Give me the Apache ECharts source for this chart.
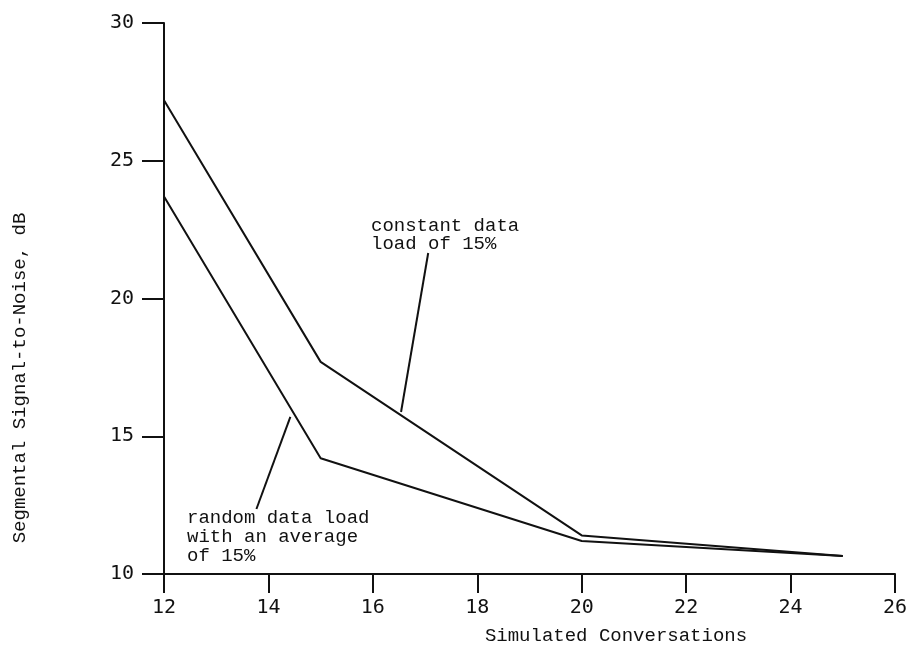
<!DOCTYPE html>
<html>
<head>
<meta charset="utf-8">
<script src="https://cdn.jsdelivr.net/npm/echarts@6/dist/echarts.min.js"></script>
<style>html,body{margin:0;padding:0;background:#fff}#c{width:912px;height:648px}</style>
</head>
<body>
<div id="c"></div>
<script>
// Data
var conversations = [12, 15, 20, 25];
var constantLoad = [27.2, 17.7, 11.4, 10.65];
var randomLoad = [23.7, 14.2, 11.2, 10.65];
var xTicks = [12, 14, 16, 18, 20, 22, 24, 26];
var yTicks = [10, 15, 20, 25, 30];
// annotation pointer lines (data coordinates)
var constantPointer = [[17.06, 21.65], [16.54, 15.88]];
var randomPointer = [[13.77, 12.36], [14.42, 15.70]];

var tickFont = 'DejaVu Sans Mono';
var textFont = 'Liberation Mono';
var ink = '#111';

var chart = echarts.init(document.getElementById('c'));
function pairs(xs, ys) { return xs.map(function (x, i) { return [x, ys[i]]; }); }

chart.setOption({
  animation: false,
  backgroundColor: '#fff',
  grid: { left: 164, right: 17, top: 23, bottom: 74 },
  xAxis: {
    type: 'value', min: xTicks[0], max: xTicks[xTicks.length - 1], interval: 2,
    axisLine: { show: true, lineStyle: { color: ink, width: 2 } },
    axisTick: { show: true, inside: false, length: 19, lineStyle: { color: ink, width: 2 } },
    axisLabel: { margin: 24, color: ink, fontFamily: tickFont, fontSize: 20 },
    splitLine: { show: false }
  },
  yAxis: {
    type: 'value', min: yTicks[0], max: yTicks[yTicks.length - 1], interval: 5,
    axisLine: { show: true, lineStyle: { color: ink, width: 2 } },
    axisTick: { show: true, inside: false, length: 22, lineStyle: { color: ink, width: 2 } },
    axisLabel: { margin: 30, color: ink, fontFamily: tickFont, fontSize: 20 },
    splitLine: { show: false }
  },
  series: [
    {
      name: 'constant', type: 'line', data: pairs(conversations, constantLoad),
      showSymbol: false, lineStyle: { color: ink, width: 2 },
      markLine: {
        symbol: 'none', silent: true, label: { show: false },
        lineStyle: { color: ink, width: 2, type: 'solid' },
        data: [[{ coord: constantPointer[0] }, { coord: constantPointer[1] }]]
      }
    },
    {
      name: 'random', type: 'line', data: pairs(conversations, randomLoad),
      showSymbol: false, lineStyle: { color: ink, width: 2 },
      markLine: {
        symbol: 'none', silent: true, label: { show: false },
        lineStyle: { color: ink, width: 2, type: 'solid' },
        data: [[{ coord: randomPointer[0] }, { coord: randomPointer[1] }]]
      }
    }
  ],
  graphic: [
    {
      type: 'text', left: 371, top: 216,
      style: { text: 'constant data\nload of 15%', font: '19px "' + textFont + '"', fill: ink, lineHeight: 18 }
    },
    {
      type: 'text', left: 187, top: 508,
      style: { text: 'random data load\nwith an average\nof 15%', font: '19px "' + textFont + '"', fill: ink, lineHeight: 19 }
    },
    {
      type: 'text', x: 616, y: 636,
      style: { text: 'Simulated Conversations', font: '19px "' + textFont + '"', fill: ink, align: 'center', verticalAlign: 'middle' }
    },
    {
      type: 'text', x: 20, y: 378, rotation: Math.PI / 2,
      style: { text: 'Segmental Signal-to-Noise, dB', font: '19px "' + textFont + '"', fill: ink, align: 'center', verticalAlign: 'middle' }
    }
  ]
});
</script>
</body>
</html>
